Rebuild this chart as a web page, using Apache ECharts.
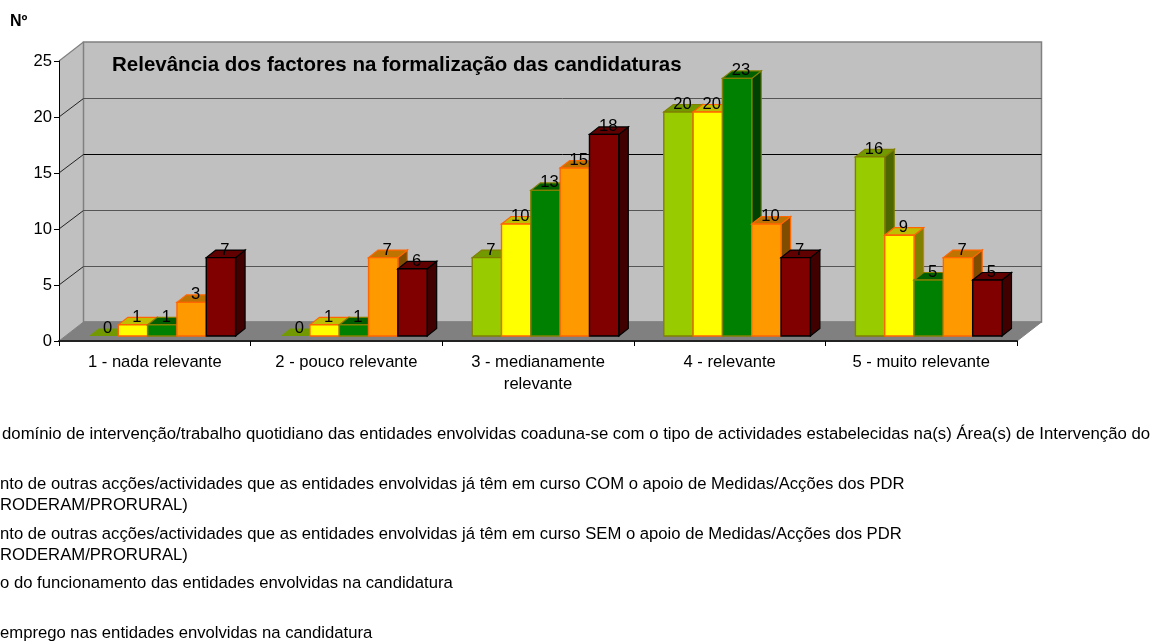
<!DOCTYPE html>
<html><head><meta charset="utf-8">
<style>html,body{margin:0;padding:0;background:#fff;overflow:hidden}#c{width:1152px;height:641px}</style>
<script src="https://cdn.jsdelivr.net/npm/echarts@6/dist/echarts.min.js"></script>
</head><body><div id="c"></div>
<script>
const categories = ['1 - nada relevante', '2 - pouco relevante', '3 - medianamente\nrelevante', '4 - relevante', '5 - muito relevante'];
const seriesDominio = [0, 0, 7, 20, 16];
const seriesCom = [1, 1, 10, 20, 9];
const seriesSem = [1, 1, 13, 23, 5];
const seriesFuncionamento = [3, 7, 15, 10, 7];
const seriesEmprego = [7, 6, 18, 7, 5];
const yTicks = [0, 5, 10, 15, 20, 25];
const chartTitle = 'Relevância dos factores na formalização das candidaturas';
const yName = 'Nº';
const legendTexts = [
  'domínio de intervenção/trabalho quotidiano das entidades envolvidas coaduna-se com o tipo de actividades estabelecidas na(s) Área(s) de Intervenção do',
  'nto de outras acções/actividades que as entidades envolvidas já têm em curso COM o apoio de Medidas/Acções dos PDR\nRODERAM/PRORURAL)',
  'nto de outras acções/actividades que as entidades envolvidas já têm em curso SEM o apoio de Medidas/Acções dos PDR\nRODERAM/PRORURAL)',
  'o do funcionamento das entidades envolvidas na candidatura',
  'emprego nas entidades envolvidas na candidatura'
];

const FONT = '"Liberation Sans", Arial, sans-serif';
const FS = 16.6;
const DEPTH_X = 24.5, DEPTH_Y = 19, BAR_DX = 7.5, BAR_DY = 5, BAR_W = 0.153, TOP_X = 9.5, TOP_Y = 7.5;
const styles = [
  {front:'#99cc00', border:'#808000', top:'#739900', side:'#4d6600'},
  {front:'#ffff00', border:'#ff6600', top:'#bfbf00', side:'#808000'},
  {front:'#008000', border:'#808000', top:'#006000', side:'#004000'},
  {front:'#ff9900', border:'#ff6600', top:'#bf7300', side:'#804d00'},
  {front:'#800000', border:'#000000', top:'#600000', side:'#400000'}
];
const allSeries = [seriesDominio, seriesCom, seriesSem, seriesFuncionamento, seriesEmprego];

function wallItem(params, api) {
  const cs = params.coordSys, tick = api.value(1), y = api.coord([0, tick])[1];
  const l = cs.x, r = cs.x + cs.width, kids = [];
  if (tick === 0) {
    const yTop = api.coord([0, 25])[1];
    kids.push({type:'polygon', shape:{points:[[l,y],[l,yTop],[l+DEPTH_X,yTop-DEPTH_Y],[l+DEPTH_X,y-DEPTH_Y]]}, style:{fill:'#c0c0c0', stroke:null}});
    kids.push({type:'rect', shape:{x:l+DEPTH_X,y:yTop-DEPTH_Y,width:cs.width,height:y-yTop}, style:{fill:'#c0c0c0', stroke:'#808080', lineWidth:1.5}});
    kids.push({type:'polygon', shape:{points:[[l,y],[l+DEPTH_X,y-DEPTH_Y],[r+DEPTH_X,y-DEPTH_Y],[r,y]]}, style:{fill:'#808080', stroke:'#808080', lineWidth:1}});
  } else if (tick === 25) {
    kids.push({type:'line', shape:{x1:l,y1:y,x2:l+DEPTH_X,y2:y-DEPTH_Y}, style:{stroke:'#808080', lineWidth:1.2}});
  } else {
    const by = y - DEPTH_Y + 0.5;
    kids.push({type:'line', shape:{x1:l,y1:y,x2:l+DEPTH_X,y2:by}, style:{stroke:'#222', lineWidth:1}});
    kids.push({type:'line', shape:{x1:l+DEPTH_X,y1:by,x2:r+DEPTH_X,y2:by}, style:{stroke:tick === 15 ? '#000' : '#555', lineWidth:1}});
  }
  return {type:'group', children:kids};
}

function barRenderer(si) {
  return function (params, api) {
    const st = styles[si], idx = api.value(0), v = api.value(1);
    const band = api.size([1, 0])[0], w = band * BAR_W;
    const c = api.coord([idx, v]), base = api.coord([idx, 0]);
    const x0 = c[0] + BAR_DX + (si - 2.5) * w, x1 = x0 + w;
    const yT = c[1] - BAR_DY, yB = base[1] - BAR_DY;
    const kids = [];
    if (v > 0) {
      kids.push({type:'polygon', shape:{points:[[x1,yT],[x1+TOP_X,yT-TOP_Y],[x1+TOP_X,yB-TOP_Y],[x1,yB]]}, style:{fill:st.side, stroke:st.border, lineWidth:1.2}});
      kids.push({type:'polygon', shape:{points:[[x0,yT],[x1,yT],[x1+TOP_X,yT-TOP_Y],[x0+TOP_X,yT-TOP_Y]]}, style:{fill:st.top, stroke:st.border, lineWidth:1.2}});
      kids.push({type:'rect', shape:{x:x0,y:yT,width:w,height:yB-yT}, style:{fill:st.front, stroke:st.border, lineWidth:1.4}});
    } else {
      kids.push({type:'polygon', shape:{points:[[x0,yT],[x1,yT],[x1+TOP_X,yT-TOP_Y],[x0+TOP_X,yT-TOP_Y]]}, style:{fill:st.top}});
    }
    kids.push({type:'text', z2:100, style:{text:String(v), x:(x0+x1)/2+4, y:yT-7.5, align:'center', verticalAlign:'middle', fill:'#000', font:FS+'px '+FONT}});
    return {type:'group', children:kids};
  };
}

const legendTop = [424, 474, 524, 573, 623];
const legendFS = [16.76, 16.66, 16.66, 16.66, 16.66];
const chart = echarts.init(document.getElementById('c'), null, {renderer:'canvas'});
chart.setOption({
  animation:false,
  backgroundColor:'#fff',
  title:[
    {text:chartTitle, left:107, top:50, textStyle:{fontFamily:FONT, fontSize:20.5, fontWeight:'bold', color:'#000'}},
    {text:yName, left:5, top:9, textStyle:{fontFamily:FONT, fontSize:16, fontWeight:'bold', color:'#000'}}
  ],
  grid:{left:59, top:61, width:958, height:280},
  xAxis:{type:'category', data:categories, z:3,
    axisLine:{lineStyle:{color:'#222', width:2}},
    axisTick:{show:true, length:5, lineStyle:{color:'#000'}},
    axisLabel:{fontFamily:FONT, fontSize:FS, color:'#000', margin:10, lineHeight:22, interval:0},
    splitLine:{show:false}},
  yAxis:{type:'value', min:0, max:25, interval:5, z:3,
    axisLine:{show:true, lineStyle:{color:'#000', width:1}},
    axisTick:{show:true, length:5, lineStyle:{color:'#000'}},
    axisLabel:{fontFamily:FONT, fontSize:FS, color:'#000', margin:7},
    splitLine:{show:false}},
  graphic: legendTexts.map((t,i)=>({type:'text', left:i===0?2:0, top:legendTop[i],
    style:{text:t, fill:'#000', font:legendFS[i]+'px '+FONT, lineHeight:21}})),
  series:[
    {type:'custom', name:'paredes', silent:true, z:1, data:yTicks.map(t=>[0,t]), encode:{x:0,y:1}, renderItem:wallItem}
  ].concat(allSeries.map((vals,si)=>({
    type:'custom', name:legendTexts[si], silent:true, z:2,
    data:vals.map((v,i)=>[i,v]), encode:{x:0,y:1}, renderItem:barRenderer(si)
  })))
});
</script></body></html>
